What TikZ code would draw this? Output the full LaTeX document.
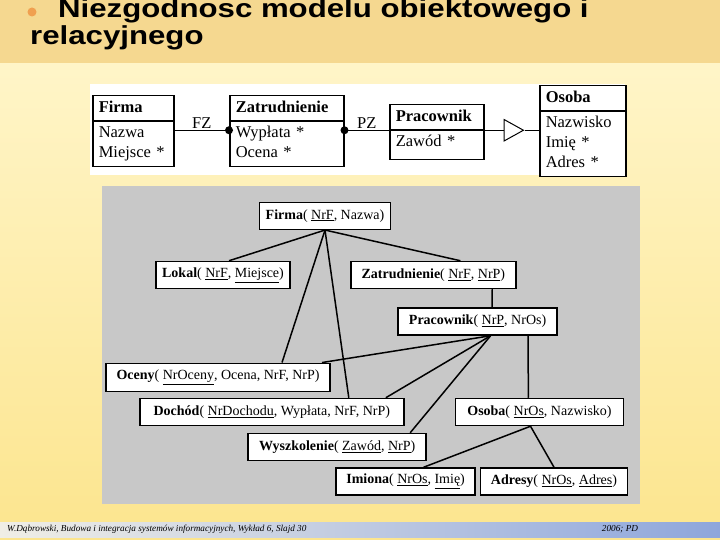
\documentclass[tikz,border=0pt]{standalone}
\usepackage{fontspec}
\setmainfont{Liberation Serif}
\newfontfamily\titlefont{Liberation Sans}
\usepackage{graphicx}
\usepackage{tikz}
\usetikzlibrary{shapes.multipart,arrows.meta}

\definecolor{titleband}{HTML}{F5D890}
\definecolor{bodytop}{HTML}{FFF5C8}
\definecolor{bodybot}{HTML}{FCE58E}
\definecolor{relpanel}{HTML}{C8C8C8}
\definecolor{footl}{HTML}{F0EEE6}
\definecolor{footr}{HTML}{8EA6DC}
\definecolor{bulletc}{HTML}{F0A050}

\begin{document}
\begin{tikzpicture}[x=1pt,y=-1pt,
  umlbox/.style={draw,line width=1.5pt,fill=white,rectangle split,rectangle split parts=2,
    anchor=north west,inner xsep=6pt,inner ysep=2pt,font=\fontsize{16.5}{20}\selectfont},
  relbox/.style={draw,line width=1.5pt,fill=white,minimum height=27pt,inner sep=0pt,
    font=\fontsize{14}{16}\selectfont},
  titletext/.style={anchor=base west,inner sep=0pt,font=\fontsize{26}{27}\selectfont\titlefont\bfseries},
  conn/.style={line width=1.5pt},
  assoc/.style={line width=1pt}]
\useasboundingbox (0,0) rectangle (720,540);
% background
\shade[top color=bodytop,bottom color=bodybot] (0,63) rectangle (720,540);
\fill[titleband] (0,0) rectangle (720,63);
\shade[left color=footl,right color=footr] (0,522) rectangle (720,537);
\fill[bulletc] (32,12) circle (4.5pt);
\node[titletext] (tytul1) at (58,18) {\scalebox{1.2}[1]{Niezgodnosc modelu obiektowego i}};
\node[titletext] (tytul2) at (30,45) {\scalebox{1.2}[1]{relacyjnego}};

% object model
\fill[white] (90,84) rectangle (625,175);
\node[umlbox,text width=69pt] (firmaU) at (92,95)
  {\strut\textbf{Firma}\nodepart{two}\strut Nazwa\\\strut Miejsce *};
\node[umlbox,text width=102pt] (zatU) at (229,95)
  {\strut\textbf{Zatrudnienie}\nodepart{two}\strut Wypłata *\\\strut Ocena *};
\node[umlbox,text width=82pt] (pracU) at (389,104)
  {\strut\textbf{Pracownik}\nodepart{two}\strut Zawód *\rule[-10pt]{0pt}{1pt}};
\node[umlbox,text width=74pt] (osobaU) at (539,85)
  {\strut\textbf{Osoba}\nodepart{two}\strut Nazwisko\\\strut Imię *\\\strut Adres *};
\draw[assoc] (firmaU.east |- pracU.text split) -- (zatU.west |- pracU.text split)
  node[midway,above,inner sep=1pt,font=\fontsize{16.5}{20}\selectfont] {FZ};
\draw[assoc] (zatU.east |- pracU.text split) -- (pracU.text split west)
  node[midway,above,inner sep=1pt,font=\fontsize{16.5}{20}\selectfont] {PZ};
\fill (zatU.west |- pracU.text split) circle (4pt);
\fill (zatU.east |- pracU.text split) circle (4pt);
\draw[assoc,-{Triangle[open,length=21pt,width=23pt]}] (pracU.text split east) -- ++(40,0) coordinate (gentip);
\draw[assoc] (gentip) -- (osobaU.west |- gentip);

% relational model
\fill[relpanel] (102,186) rectangle (640,504);
\node[relbox,minimum width=131pt] (firmaR) at (325,215.8) {\textbf{Firma}( \underline{NrF}, Nazwa)};
\node[relbox,minimum width=134pt] (lokalR) at (223,275) {\textbf{Lokal}( \underline{NrF}, \underline{Miejsce})};
\node[relbox,minimum width=165pt] (zatR) at (433.4,275) {\textbf{Zatrudnienie}( \underline{NrF}, \underline{NrP})};
\node[relbox,minimum width=159pt] (pracR) at (477.6,321.5) {\textbf{Pracownik}( \underline{NrP}, NrOs)};
\node[relbox,minimum width=224pt,minimum height=28pt] (ocenyR) at (218,377.3) {\textbf{Oceny}( \underline{NrOceny}, Ocena, NrF, NrP)};
\node[relbox,minimum width=264pt] (dochodR) at (271.8,412) {\textbf{Dochód}( \underline{NrDochodu}, Wypłata, NrF, NrP)};
\node[relbox,minimum width=168pt] (osobaR) at (539.5,412) {\textbf{Osoba}( \underline{NrOs}, Nazwisko)};
\node[relbox,minimum width=178pt] (wyszR) at (337.2,447) {\textbf{Wyszkolenie}( \underline{Zawód}, \underline{NrP})};
\node[relbox,minimum width=139pt] (imionaR) at (405.6,481.5) {\textbf{Imiona}( \underline{NrOs}, \underline{Imię})};
\node[relbox,minimum width=147pt] (adresyR) at (554,481.5) {\textbf{Adresy}( \underline{NrOs}, \underline{Adres})};

\draw[conn] (firmaR.south) -- ([xshift=6pt]lokalR.north);
\draw[conn] (firmaR.south) -- ([xshift=27pt]zatR.north);
\draw[conn] (firmaR.south) -- ([xshift=64pt]ocenyR.north);
\draw[conn] (firmaR.south) -- ([xshift=77pt]dochodR.north);
\draw[conn] ([xshift=58.6pt]zatR.south) -- ([xshift=14.6pt]pracR.north);
\coordinate (phub) at ([xshift=13pt]pracR.south);
\draw[conn] (phub) -- ([xshift=104pt]ocenyR.north);
\draw[conn] (phub) -- ([xshift=114pt]dochodR.north);
\draw[conn] (phub) -- ([xshift=73pt]wyszR.north);
\draw[conn] ([xshift=50.4pt]pracR.south) -- ([xshift=-11.1pt]osobaR.north);
\coordinate (ohub) at ([xshift=-9pt]osobaR.south);
\draw[conn] (ohub) -- ([xshift=18pt]imionaR.north);
\draw[conn] (ohub) -- (adresyR.north);

% footer
\node[anchor=west,inner sep=0pt,font=\fontsize{9.2}{11}\selectfont\itshape] (stopka) at (7,529.5)
  {W.Dąbrowski, Budowa i integracja systemów informacyjnych, Wykład 6, Slajd 30};
\node[inner sep=0pt,font=\fontsize{9.2}{11}\selectfont\itshape] (rok) at (620,529.5) {2006; PD};
\end{tikzpicture}
\end{document}
